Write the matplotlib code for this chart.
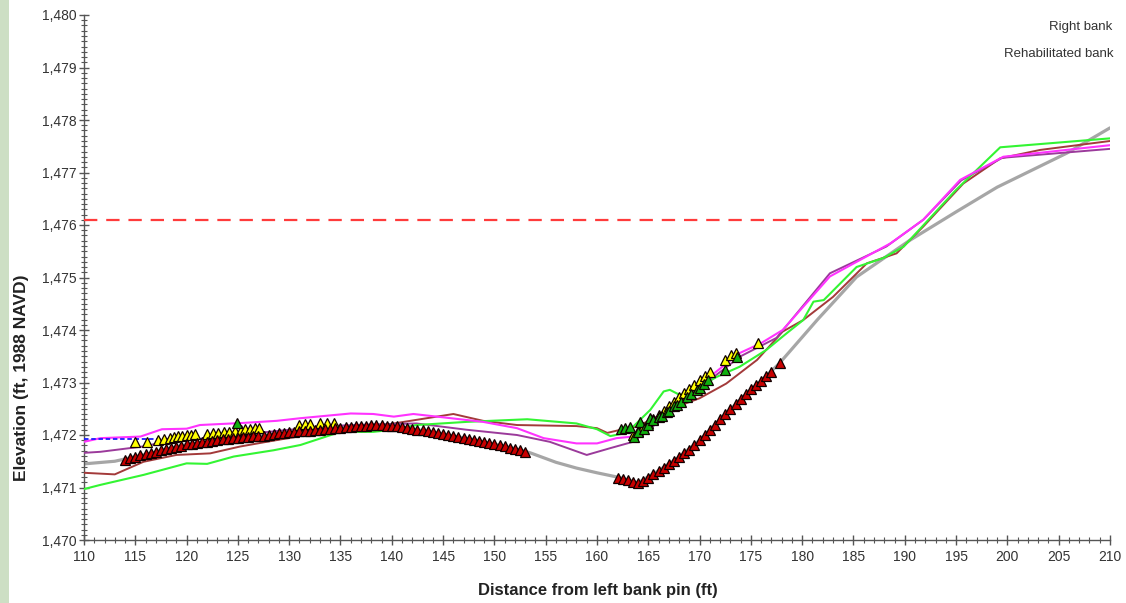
import matplotlib
matplotlib.use("Agg")
import matplotlib.pyplot as plt
from matplotlib.ticker import MultipleLocator, FuncFormatter
from matplotlib.patches import Rectangle

plt.rcParams['font.family'] = ['Liberation Sans', 'DejaVu Sans']

# ---------------- data ----------------
gray_x = [110, 113, 116, 120, 124, 128, 132, 136, 138.5, 140, 144, 148, 152, 153.5, 156, 158, 160, 162.2,
          164, 166, 168, 170, 172, 174, 176, 177.8, 181.5, 185.3, 190.5, 195, 199, 205.8, 210]
gray_y = [1471.45, 1471.5, 1471.63, 1471.82, 1471.93, 1472.0, 1472.08, 1472.16, 1472.19, 1472.18, 1472.05,
          1471.91, 1471.74, 1471.66, 1471.48, 1471.37, 1471.28, 1471.19, 1471.09, 1471.32, 1471.58, 1471.9,
          1472.3, 1472.68, 1473.03, 1473.37, 1474.2, 1475.01, 1475.71, 1476.25, 1476.72, 1477.37, 1477.85]

magenta_x = [110, 111.6, 115.5, 117.6, 120, 121.3, 125.5, 128.8, 131.1, 136, 138.2, 140.2, 142.1, 144.4,
             148.9, 152.2, 154.8, 158, 160, 161.9, 163.5, 165, 167, 169, 171, 173.9, 176, 178.1, 182.7,
             188.6, 191.8, 195.4, 199.6, 210]
magenta_y = [1471.87, 1471.94, 1471.97, 1472.11, 1472.12, 1472.19, 1472.23, 1472.27, 1472.32, 1472.41,
             1472.40, 1472.35, 1472.40, 1472.35, 1472.25, 1472.13, 1471.94, 1471.84, 1471.84, 1471.94,
             1471.97, 1472.2, 1472.5, 1472.8, 1473.11, 1473.56, 1473.75, 1474.0, 1475.02, 1475.65,
             1476.1, 1476.86, 1477.3, 1477.52]

purple_x = [110, 111.6, 116.1, 117.1, 120, 125, 130, 135, 138, 142.4, 147.3, 152.2, 155.4, 159, 161.3,
            163.5, 167, 171, 174, 177.5, 182.7, 188.2, 191.8, 195.5, 199.5, 210]
purple_y = [1471.66, 1471.68, 1471.79, 1471.84, 1471.9, 1472.0, 1472.1, 1472.18, 1472.2, 1472.22, 1472.1,
            1472.0, 1471.87, 1471.62, 1471.75, 1471.87, 1472.4, 1473.05, 1473.5, 1473.85, 1475.08,
            1475.59, 1476.1, 1476.85, 1477.28, 1477.45]

brown_x = [110, 113, 115.8, 119, 122.3, 125.2, 127.8, 131.7, 135, 140.2, 146, 148.9, 152.2, 158, 160, 161,
           162.3, 163.9, 167.8, 170, 172.6, 175.6, 178.1, 180.1, 183, 186.3, 189.2, 191.8, 195.7, 199.3,
           203.2, 210]
brown_y = [1471.28, 1471.25, 1471.49, 1471.62, 1471.65, 1471.78, 1471.87, 1472.0, 1472.06, 1472.22, 1472.4,
           1472.27, 1472.19, 1472.17, 1472.13, 1472.04, 1472.1, 1472.16, 1472.54, 1472.7, 1472.98,
           1473.43, 1473.97, 1474.19, 1474.63, 1475.27, 1475.46, 1475.97, 1476.79, 1477.27, 1477.43,
           1477.6]

green_x = [110, 111.6, 115.8, 120, 122, 124.6, 128.5, 131.1, 135, 138.2, 140.1, 142.4, 147.3, 153.2, 158,
           160, 161.3, 162.9, 165.2, 166.5, 167.1, 168.1, 170, 171.7, 173.9, 176.5, 178.5, 180.1, 181.1,
           182.1, 185.3, 187.9, 189.9, 195, 199.3, 210]
green_y = [1470.97, 1471.05, 1471.24, 1471.46, 1471.45, 1471.59, 1471.71, 1471.81, 1472.06, 1472.06,
           1472.1, 1472.19, 1472.25, 1472.3, 1472.22, 1472.11, 1471.98, 1472.04, 1472.48, 1472.83,
           1472.86, 1472.76, 1472.92, 1473.11, 1473.3, 1473.62, 1473.94, 1474.19, 1474.54, 1474.57,
           1475.2, 1475.37, 1475.59, 1476.67, 1477.48, 1477.65]

blue_x = [110, 128]
blue_y = [1471.93, 1471.93]

bankfull_x = [110, 190]
bankfull_y = [1476.1, 1476.1]

red_pts_x = [114.0, 114.5, 115.0, 115.5, 116.0, 116.5, 117.0, 117.5, 118.0, 118.5, 119.0, 119.5, 120.0,
             120.5, 121.0, 121.5, 122.0, 122.5, 123.0, 123.5, 124.0, 124.5, 125.0, 125.5, 126.0, 126.5,
             127.0, 127.5, 128.0, 128.5, 129.0, 129.5, 130.0, 130.5, 131.0, 131.5, 132.0, 132.5, 133.0,
             133.5, 134.0, 134.5, 135.0, 135.5, 136.0, 136.5, 137.0, 137.5, 138.0, 138.5, 139.0, 139.5,
             140.0, 140.5, 141.0, 141.5, 142.0, 142.5, 143.0, 143.5, 144.0, 144.5, 145.0, 145.5, 146.0,
             146.5, 147.0, 147.5, 148.0, 148.5, 149.0, 149.5, 150.0, 150.5, 151.0, 151.5, 152.0, 152.5,
             153.0,
             162.0, 162.5, 163.0, 163.5, 164.0, 164.5, 165.0, 165.5, 166.0, 166.5, 167.0, 167.5, 168.0,
             168.5, 169.0, 169.5, 170.0, 170.5, 171.0, 171.5, 172.0, 172.5, 173.0, 173.5, 174.0, 174.5,
             175.0, 175.5, 176.0, 176.5, 177.0, 177.8]
red_pts_y = [1471.53, 1471.56, 1471.58, 1471.61, 1471.63, 1471.66, 1471.68, 1471.71, 1471.73, 1471.75,
             1471.78, 1471.80, 1471.82, 1471.83, 1471.85, 1471.86, 1471.87, 1471.89, 1471.90, 1471.92,
             1471.93, 1471.94, 1471.95, 1471.96, 1471.97, 1471.98, 1471.99, 1471.99, 1472.00, 1472.01,
             1472.03, 1472.04, 1472.05, 1472.06, 1472.07, 1472.07, 1472.08, 1472.09, 1472.10, 1472.11,
             1472.12, 1472.13, 1472.14, 1472.15, 1472.16, 1472.17, 1472.18, 1472.18, 1472.19, 1472.19,
             1472.19, 1472.18, 1472.18, 1472.17, 1472.15, 1472.14, 1472.12, 1472.10, 1472.09, 1472.07,
             1472.05, 1472.03, 1472.02, 1472.00, 1471.98, 1471.96, 1471.95, 1471.93, 1471.91, 1471.89,
             1471.87, 1471.85, 1471.83, 1471.81, 1471.79, 1471.76, 1471.74, 1471.71, 1471.68,
             1471.18, 1471.16, 1471.14, 1471.11, 1471.09, 1471.12, 1471.18, 1471.25, 1471.32, 1471.38,
             1471.45, 1471.51, 1471.58, 1471.65, 1471.72, 1471.81, 1471.90, 1472.00, 1472.10, 1472.20,
             1472.30, 1472.40, 1472.50, 1472.59, 1472.68, 1472.78, 1472.87, 1472.95, 1473.03, 1473.12,
             1473.20, 1473.37]

yellow_pts_x = [115.0, 116.1, 117.2, 117.8, 118.4, 118.8, 119.2, 119.6, 120.0, 120.4, 120.8, 122.0, 122.6,
                123.1, 123.6, 124.1, 124.7, 125.3, 125.7, 126.2, 126.7, 127.1, 131.0, 131.5, 132.0, 133.0,
                133.7, 134.4,
                163.5, 164.0, 164.5, 165.0, 165.5, 166.0, 166.5, 167.0, 167.5, 168.0, 168.5, 169.0, 169.5,
                170.0, 170.5, 171.0, 172.5, 173.1, 173.5, 175.7]
yellow_pts_y = [1471.87, 1471.87, 1471.91, 1471.93, 1471.95, 1471.97, 1471.98, 1471.99, 1472.0, 1472.0,
                1472.01, 1472.02, 1472.03, 1472.04, 1472.05, 1472.06, 1472.08, 1472.10, 1472.11, 1472.12,
                1472.13, 1472.14, 1472.2, 1472.21, 1472.21, 1472.22, 1472.22, 1472.22,
                1472.0, 1472.08, 1472.15, 1472.22, 1472.3, 1472.38, 1472.46, 1472.55, 1472.63, 1472.72,
                1472.8, 1472.88, 1472.96, 1473.04, 1473.12, 1473.2, 1473.43, 1473.52, 1473.56, 1473.75]

green_pts_x = [124.9,
               162.3, 162.7, 163.2, 163.6, 164.0, 164.2, 164.6, 165.0, 165.2, 165.5, 166.0, 166.3, 166.8,
               167.0, 167.5, 167.8, 168.2, 168.8, 169.2, 169.7, 170.0, 170.4, 170.8, 172.5, 173.6]
green_pts_y = [1472.22,
               1472.12, 1472.13, 1472.16, 1471.97, 1472.05, 1472.25, 1472.12, 1472.2, 1472.32, 1472.28,
               1472.35, 1472.36, 1472.44, 1472.45, 1472.55, 1472.57, 1472.63, 1472.73, 1472.78, 1472.86,
               1472.9, 1472.98, 1473.05, 1473.24, 1473.49]

legend_labels = ["Right bank", "Rehabilitated bank"]
x_label = "Distance from left bank pin (ft)"
y_label = "Elevation (ft, 1988 NAVD)"

# ---------------- figure ----------------
fig = plt.figure(figsize=(11.26, 6.03), dpi=100)
fig.patch.set_facecolor('white')
fig.patches.append(Rectangle((0, 0), 9 / 1126, 1, transform=fig.transFigure,
                             facecolor='#cddfc4', edgecolor='none', zorder=0))

ax = fig.add_axes([84 / 1126, 1 - 540 / 603, (1110 - 84) / 1126, (540 - 15) / 603])

ax.plot(gray_x, gray_y, color='#a6a6a6', lw=2.3, zorder=2, solid_capstyle='round')
ax.plot(brown_x, brown_y, color='#a33a3a', lw=1.4, zorder=3)
ax.plot(purple_x, purple_y, color='#9b3a9b', lw=1.4, zorder=3)
ax.plot(green_x, green_y, color='#33f533', lw=1.5, zorder=3)
ax.plot(magenta_x, magenta_y, color='#ff33ff', lw=1.5, zorder=3)
ax.plot(blue_x, blue_y, color='#1a1aff', lw=1.3, ls=(0, (2.5, 1.5)), zorder=3)
ax.plot(bankfull_x, bankfull_y, color='#ff3b3b', lw=1.6, ls=(0, (6, 4)), zorder=3)

mk = dict(ls='none', marker='^', markersize=7.2, markeredgecolor='#100000', markeredgewidth=0.9)
ax.plot(yellow_pts_x, yellow_pts_y, markerfacecolor='#ffff00', zorder=4, **mk)
ax.plot(green_pts_x, green_pts_y, markerfacecolor='#10b010', zorder=5, **mk)
ax.plot(red_pts_x, red_pts_y, markerfacecolor='#c80000', zorder=6, **mk)

ax.set_xlim(110, 210)
ax.set_ylim(1470, 1480)
ax.xaxis.set_major_locator(MultipleLocator(5))
ax.xaxis.set_minor_locator(MultipleLocator(1))
ax.yaxis.set_major_locator(MultipleLocator(1))
ax.yaxis.set_minor_locator(MultipleLocator(0.1))
ax.yaxis.set_major_formatter(FuncFormatter(lambda v, p: f"{v:,.0f}"))

for s in ['top', 'right']:
    ax.spines[s].set_visible(False)
for s in ['left', 'bottom']:
    ax.spines[s].set_color('#555555')
    ax.spines[s].set_linewidth(1.0)

ax.tick_params(axis='both', which='major', direction='inout', length=7, width=1.0,
               color='#555555', labelsize=10, labelcolor='#333333')
ax.tick_params(axis='both', which='minor', direction='inout', length=4, width=0.8, color='#555555')
ax.tick_params(axis='y', which='major', pad=2)
ax.tick_params(axis='x', which='major', pad=4)

fig.text(598 / 1126, 1 - 591 / 603, x_label, ha='center', va='center',
         fontsize=12, fontweight='bold', color='#222222')
fig.text(22 / 1126, 1 - 378 / 603, y_label, ha='center', va='center', rotation=90,
         fontsize=12.5, fontweight='bold', color='#222222')

fig.text(1112 / 1126, 1 - 27 / 603, legend_labels[0], ha='right', va='center',
         fontsize=9.5, color='#333333')
fig.text(1113 / 1126, 1 - 54 / 603, legend_labels[1], ha='right', va='center',
         fontsize=9.5, color='#333333')

fig.savefig('out.png', dpi=100, facecolor='white')
